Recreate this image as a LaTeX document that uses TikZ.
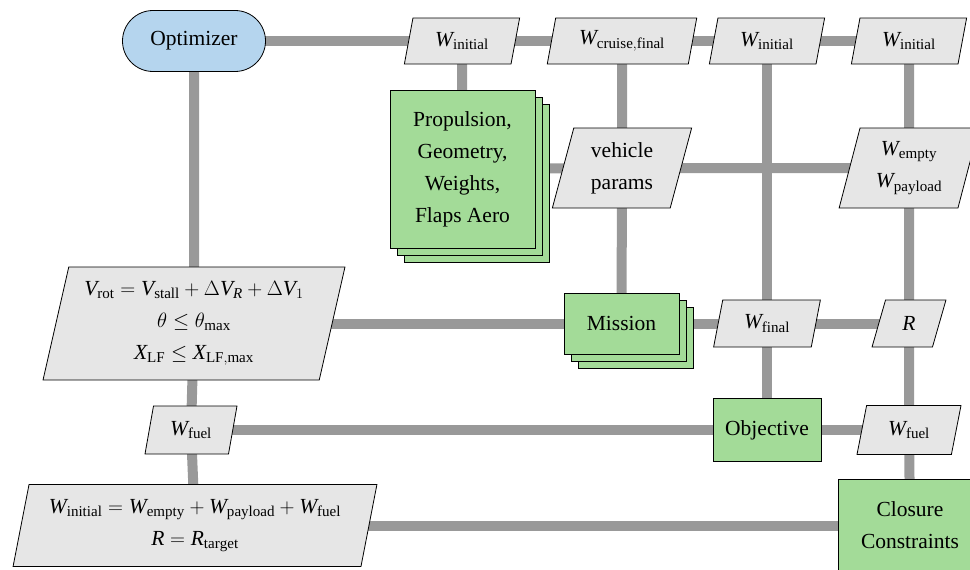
\documentclass[tikz,border=0pt]{standalone}
\usepackage{amsmath}
\usepackage{fontspec}
\setmainfont{LiberationSerif}[Extension=.ttf, UprightFont=*-Regular, ItalicFont=*-Italic, BoldFont=*-Bold, BoldItalicFont=*-BoldItalic]
\setmathrm{LiberationSerif}[Extension=.ttf, UprightFont=*-Regular, ItalicFont=*-Italic, BoldFont=*-Bold, BoldItalicFont=*-BoldItalic]
\newcommand{\vv}[1]{\text{\itshape #1}}
\usetikzlibrary{shapes.geometric,shapes.misc,shadows,backgrounds}
\definecolor{optblue}{RGB}{181,213,238}
\definecolor{fungreen}{RGB}{163,219,152}
\definecolor{datagray}{RGB}{230,230,230}
\definecolor{linegray}{RGB}{153,153,153}
\tikzset{
  optbox/.style={shape=rounded rectangle, draw=black, line width=0.8pt, fill=optblue, minimum width=143pt, minimum height=61pt, inner sep=0pt},
  funbox/.style={shape=rectangle, draw=black, line width=0.8pt, fill=fungreen, inner sep=0pt, align=center},
  stackbox/.style={funbox, double copy shadow={shadow xshift=7pt, shadow yshift=-7pt}},
  databox/.style={shape=trapezium, trapezium left angle=75, trapezium right angle=105, trapezium stretches=true, draw=black, line width=0.8pt, fill=datagray, inner sep=0pt, align=center},
  conn/.style={draw=linegray, line width=10pt},
}
\begin{document}
\begin{tikzpicture}[x=1pt,y=-1pt,font=\rmfamily\fontsize{21.5}{32}\selectfont]
\useasboundingbox (0,0) rectangle (970,570);
% row 1
\node[optbox] (opt) at (194,41) {Optimizer};
\node[databox, minimum width=116pt, minimum height=46pt] (wi1) at (462,41) {$\vv{W}_{\mathrm{initial}}$};
\node[databox, minimum width=150pt, minimum height=46pt] (wcf) at (622,41) {$\vv{W}_{\mathrm{cruise,final}}$};
\node[databox, minimum width=116pt, minimum height=46pt] (wi3) at (767,41) {$\vv{W}_{\mathrm{initial}}$};
\node[databox, minimum width=116pt, minimum height=46pt] (wi4) at (909,41) {$\vv{W}_{\mathrm{initial}}$};
% row 2
\node[stackbox, minimum width=145pt, minimum height=158pt] (prop) at (462.5,169) {Propulsion,\\Geometry,\\Weights,\\Flaps Aero};
\node[databox, minimum width=140pt, minimum height=80pt] (vp) at (622,168) {vehicle\\params};
\node[databox, minimum width=140pt, minimum height=80pt] (wep) at (909,168) {$\vv{W}_{\mathrm{empty}}$\\$\vv{W}_{\mathrm{payload}}$};
% row 3
\node[databox, minimum width=303pt, minimum height=113pt] (vrot) at (194,323.5) {$\vv{V}_{\mathrm{rot}} = \vv{V}_{\mathrm{stall}} + \Delta \vv{V}_{\vv{R}} + \Delta \vv{V}_1$\\$\theta \le \theta_{\mathrm{max}}$\\$\vv{X}_{\mathrm{LF}} \le \vv{X}_{\mathrm{LF,max}}$};
\node[stackbox, minimum width=115pt, minimum height=61pt] (mis) at (621.5,323.5) {Mission};
\node[databox, minimum width=107pt, minimum height=47pt] (wfin) at (767,323.5) {$\vv{W}_{\mathrm{final}}$};
\node[databox, minimum width=74pt, minimum height=47pt] (rr) at (909,323.5) {$\vv{R}$};
% row 4
\node[databox, minimum width=92pt, minimum height=48pt] (wfl) at (191,430) {$\vv{W}_{\mathrm{fuel}}$};
\node[funbox, minimum width=108pt, minimum height=63pt] (obj) at (767,430) {Objective};
\node[databox, minimum width=104pt, minimum height=49pt] (wfr) at (909,430) {$\vv{W}_{\mathrm{fuel}}$};
% row 5
\node[databox, minimum width=365pt, minimum height=82pt] (cons) at (195,525.5) {$\vv{W}_{\mathrm{initial}} = \vv{W}_{\mathrm{empty}} + \vv{W}_{\mathrm{payload}} + \vv{W}_{\mathrm{fuel}}$\\$\vv{R} = \vv{R}_{\mathrm{target}}$};
\node[funbox, minimum width=144pt, minimum height=93pt] (clo) at (910,525.5) {Closure\\Constraints};
% connectors
\begin{pgfonlayer}{background}
\draw[conn] (opt.center) -- (wi4.center);
\draw[conn] (opt.center) -- (vrot.center) -- (wfl.center) -- (cons.center);
\draw[conn] (wi1.center) -- (prop.center);
\draw[conn] (wcf.center) -- (vp.center) -- (mis.center);
\draw[conn] (wi3.center) -- (wfin.center) -- (obj.center);
\draw[conn] (wi4.center) -- (wep.center) -- (rr.center) -- (wfr.center) -- (clo.center);
\draw[conn] (prop.center) -- (vp.center) -- (wep.center);
\draw[conn] (vrot.center) -- (mis.center) -- (wfin.center) -- (rr.center);
\draw[conn] (wfl.center) -- (obj.center) -- (wfr.center);
\draw[conn] (cons.center) -- (clo.center);
\end{pgfonlayer}
\end{tikzpicture}
\end{document}
